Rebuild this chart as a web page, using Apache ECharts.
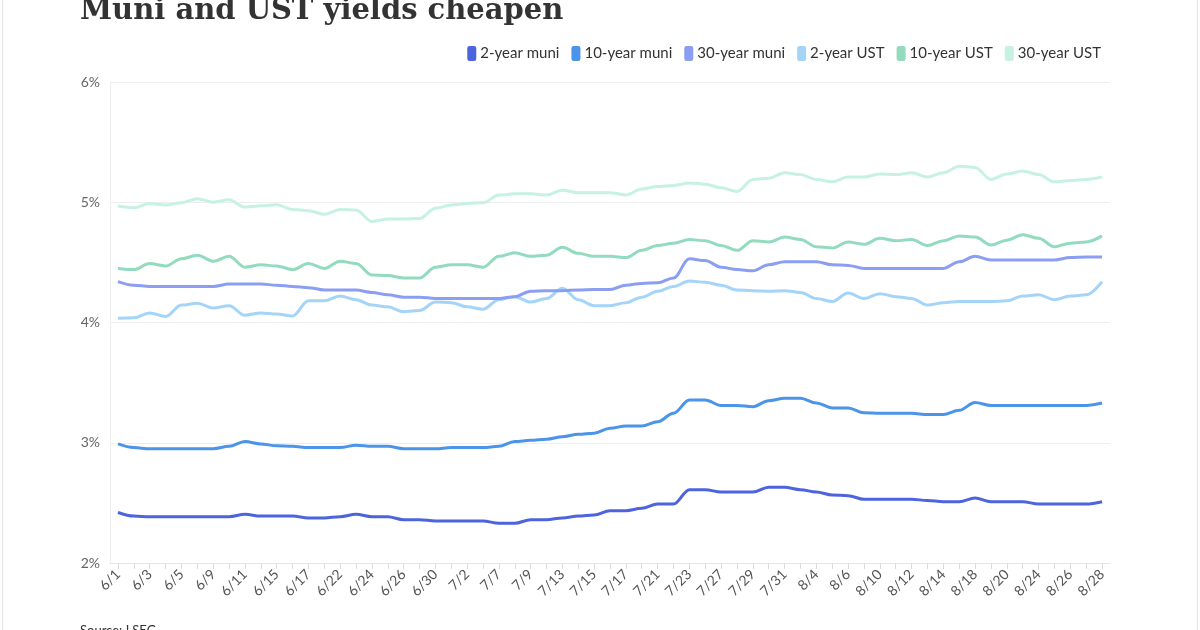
<!DOCTYPE html>
<html>
<head>
<meta charset="utf-8">
<title>Muni and UST yields cheapen</title>
<script src="https://cdn.jsdelivr.net/npm/echarts@6/dist/echarts.min.js"></script>
<style>
  html, body { margin: 0; padding: 0; background: #fff; }
  #chart { width: 1200px; height: 630px; }
</style>
</head>
<body>
<div id="chart"></div>
<script>
// trading dates, every other one is labelled on the axis
var dates = [
  '6/1','6/2','6/3','6/4','6/5','6/8','6/9','6/10','6/11','6/12','6/15','6/16','6/17','6/18',
  '6/22','6/23','6/24','6/25','6/26','6/29','6/30','7/1','7/2','7/6','7/7','7/8','7/9','7/10',
  '7/13','7/14','7/15','7/16','7/17','7/20','7/21','7/22','7/23','7/24','7/27','7/28','7/29','7/30',
  '7/31','8/3','8/4','8/5','8/6','8/7','8/10','8/11','8/12','8/13','8/14','8/17','8/18','8/19',
  '8/20','8/21','8/24','8/25','8/26','8/27','8/28'
];

var muni2 = [
  2.42,2.39,2.385,2.385,2.385,2.385,2.385,2.385,2.405,2.39,2.39,2.39,2.375,2.375,
  2.385,2.405,2.385,2.385,2.36,2.36,2.35,2.35,2.35,2.35,2.33,2.33,2.36,2.36,
  2.375,2.39,2.40,2.435,2.435,2.455,2.49,2.49,2.61,2.61,2.59,2.59,2.59,2.63,
  2.63,2.61,2.59,2.565,2.56,2.53,2.53,2.53,2.53,2.52,2.51,2.51,2.54,2.51,
  2.51,2.51,2.49,2.49,2.49,2.49,2.51
];
var muni10 = [
  2.99,2.96,2.95,2.95,2.95,2.95,2.95,2.97,3.01,2.99,2.975,2.97,2.96,2.96,
  2.96,2.98,2.97,2.97,2.95,2.95,2.95,2.96,2.96,2.96,2.97,3.01,3.02,3.03,
  3.05,3.07,3.08,3.12,3.14,3.14,3.175,3.245,3.355,3.355,3.31,3.31,3.30,3.35,
  3.37,3.37,3.33,3.29,3.29,3.25,3.245,3.245,3.245,3.235,3.235,3.27,3.335,3.31,
  3.31,3.31,3.31,3.31,3.31,3.31,3.33
];
var muni30 = [
  4.34,4.31,4.30,4.30,4.30,4.30,4.30,4.32,4.32,4.32,4.31,4.30,4.29,4.27,
  4.27,4.27,4.25,4.23,4.21,4.21,4.20,4.20,4.20,4.20,4.20,4.215,4.26,4.265,
  4.265,4.27,4.275,4.275,4.31,4.325,4.33,4.37,4.53,4.515,4.46,4.44,4.43,4.48,
  4.505,4.505,4.505,4.48,4.475,4.45,4.45,4.45,4.45,4.45,4.45,4.505,4.55,4.52,
  4.52,4.52,4.52,4.52,4.54,4.545,4.545
];
var ust2 = [
  4.035,4.04,4.08,4.05,4.145,4.16,4.12,4.14,4.06,4.08,4.07,4.055,4.18,4.18,
  4.22,4.19,4.145,4.13,4.09,4.10,4.17,4.165,4.13,4.11,4.19,4.215,4.17,4.20,
  4.285,4.19,4.14,4.14,4.165,4.21,4.26,4.30,4.345,4.335,4.31,4.27,4.265,4.26,
  4.265,4.25,4.20,4.175,4.245,4.20,4.24,4.215,4.20,4.145,4.165,4.175,4.175,4.175,
  4.18,4.22,4.23,4.19,4.22,4.23,4.34
];
var ust10 = [
  4.45,4.44,4.49,4.47,4.53,4.56,4.51,4.55,4.46,4.48,4.47,4.44,4.49,4.45,
  4.51,4.49,4.395,4.39,4.37,4.37,4.46,4.48,4.48,4.46,4.55,4.58,4.55,4.56,
  4.625,4.575,4.55,4.55,4.54,4.60,4.64,4.66,4.69,4.68,4.64,4.60,4.68,4.67,
  4.71,4.69,4.63,4.62,4.67,4.65,4.70,4.68,4.69,4.64,4.68,4.72,4.71,4.645,
  4.685,4.73,4.70,4.63,4.66,4.67,4.72
];
var ust30 = [
  4.969,4.955,4.99,4.977,4.996,5.03,5.00,5.02,4.96,4.97,4.98,4.94,4.93,4.90,
  4.94,4.935,4.84,4.86,4.86,4.865,4.95,4.977,4.99,4.996,5.06,5.07,5.07,5.06,
  5.10,5.08,5.08,5.08,5.06,5.11,5.13,5.14,5.16,5.15,5.12,5.09,5.19,5.20,
  5.245,5.23,5.19,5.17,5.21,5.21,5.235,5.23,5.245,5.21,5.245,5.30,5.29,5.19,
  5.235,5.26,5.23,5.17,5.18,5.19,5.21
];

var names = ['2-year muni','10-year muni','30-year muni','2-year UST','10-year UST','30-year UST'];
var colors = ['#4d64dd','#4c94ea','#8c9ef2','#a4d4f8','#93dbbf','#c6f1e3'];
var values = [muni2, muni10, muni30, ust2, ust10, ust30];

var chart = echarts.init(document.getElementById('chart'));

var series = [];
for (var i = values.length - 1; i >= 0; i--) {
  series.push({
    name: names[i],
    type: 'line',
    data: values[i],
    smooth: 0.35,
    smoothMonotone: 'x',
    symbol: 'none',
    lineStyle: { width: 3, color: colors[i] },
    itemStyle: { color: colors[i] },
    z: 10 - i
  });
}

var option = {
  backgroundColor: '#fff',
  animation: false,
  color: colors,
  textStyle: { fontFamily: 'Lato, "Noto Sans", sans-serif' },
  legend: {
    data: names,
    right: 94,
    top: 41,
    icon: 'roundRect',
    itemWidth: 9,
    itemHeight: 15,
    itemGap: 12,
    textStyle: { fontSize: 15, color: '#333', fontFamily: 'Lato', padding: [0, 0, 0, -1] }
  },
  grid: { left: 110, right: 90, top: 82, bottom: 67, containLabel: false },
  xAxis: {
    type: 'category',
    data: dates,
    boundaryGap: true,
    axisLine: { lineStyle: { color: '#e6e6e6' } },
    axisTick: { show: true, alignWithLabel: true, interval: 0, length: 6, lineStyle: { color: '#dcdcdc' } },
    axisLabel: { interval: 1, rotate: 45, fontSize: 14, color: '#555', margin: 9, fontFamily: 'Lato' }
  },
  yAxis: {
    type: 'value',
    min: 2,
    max: 6,
    interval: 1,
    axisLine: { show: true, lineStyle: { color: '#eeeeee' } },
    axisTick: { show: false },
    splitLine: { lineStyle: { color: '#eeeeee' } },
    axisLabel: { formatter: '{value}%', fontSize: 14, color: '#666', margin: 10, fontFamily: 'Lato' }
  },
  graphic: [
    { type: 'text', left: 80, top: -3, style: { text: 'Muni and UST yields cheapen', fontSize: 29, fontWeight: 'bold', fontFamily: '"DejaVu Serif", serif', fill: '#333' } },
    { type: 'text', left: 80, top: 624, style: { text: 'Source: LSEG', fontSize: 13, fontFamily: 'Lato', fill: '#333' } },
    { type: 'line', shape: { x1: 2.5, y1: 0, x2: 2.5, y2: 630 }, style: { stroke: '#e3e3e3', lineWidth: 1 } },
    { type: 'line', shape: { x1: 1197.5, y1: 0, x2: 1197.5, y2: 630 }, style: { stroke: '#e3e3e3', lineWidth: 1 } }
  ],
  series: series
};

chart.setOption(option);
</script>
</body>
</html>
